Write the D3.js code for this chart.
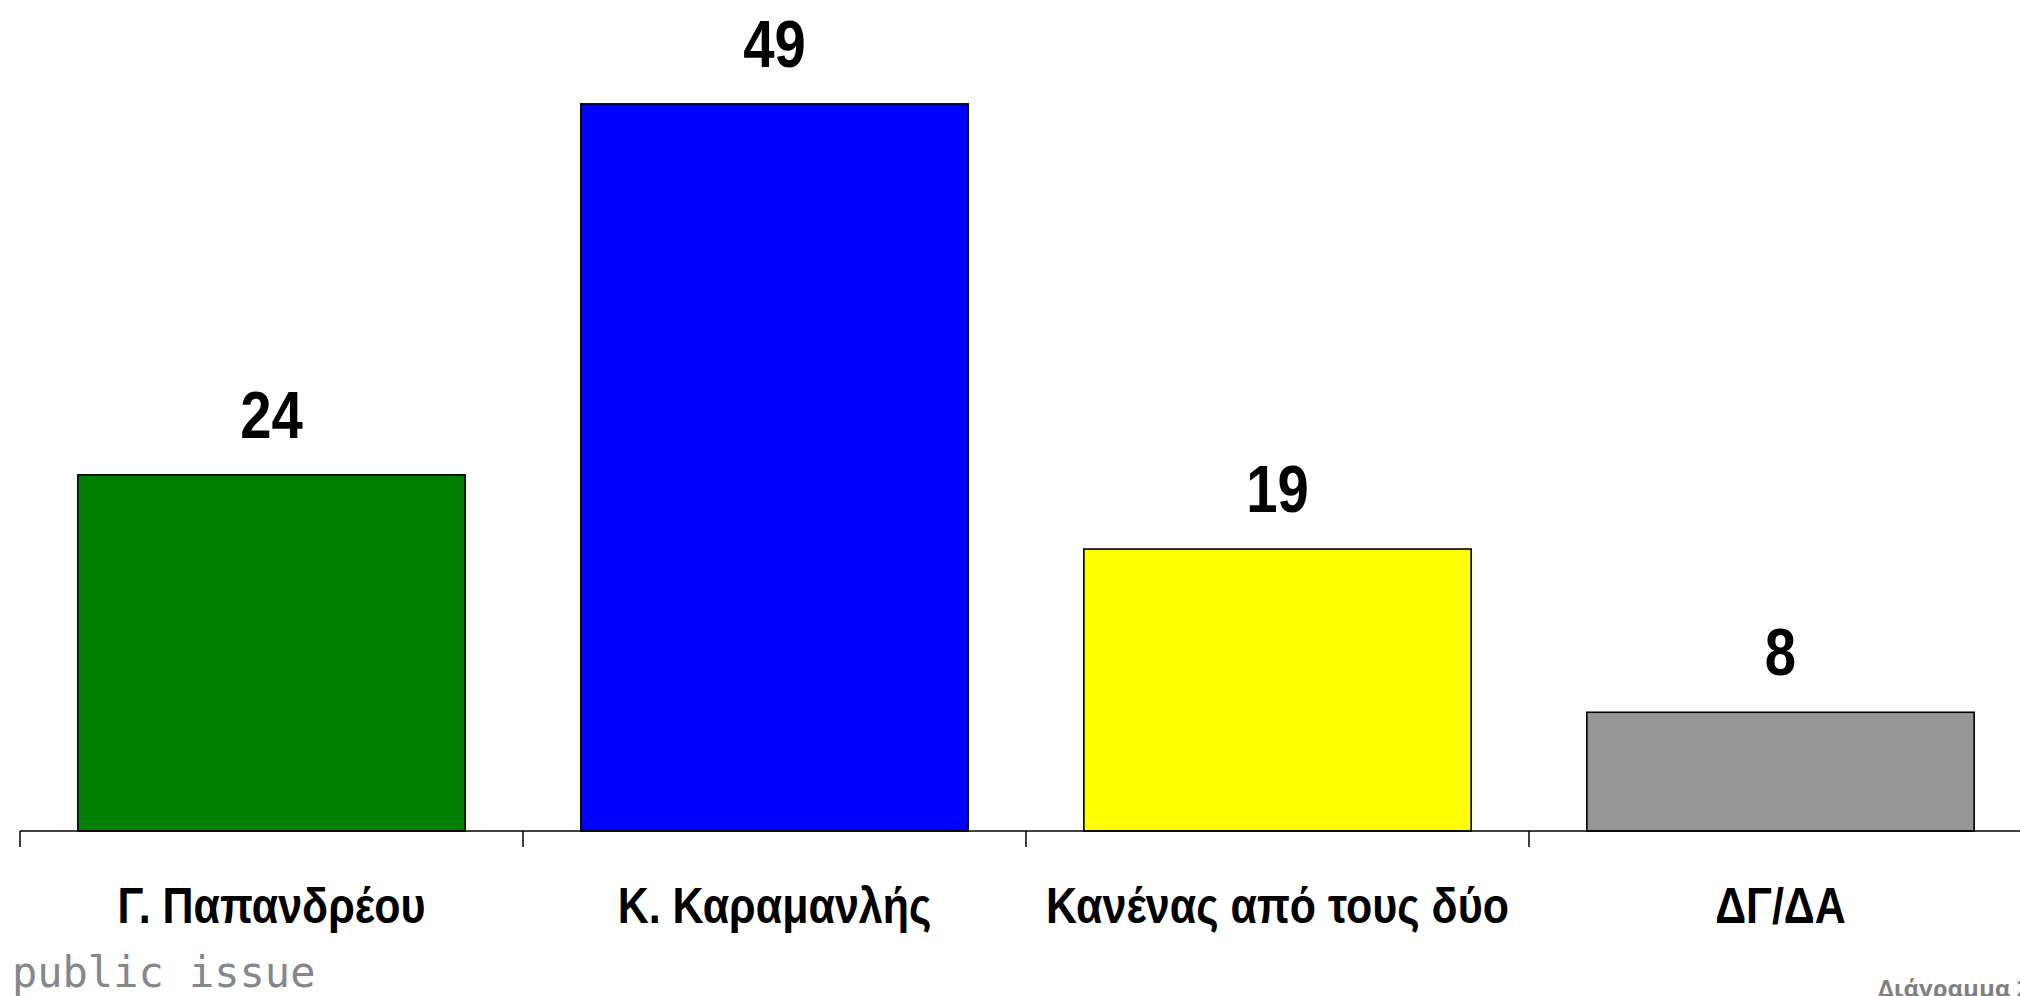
<!DOCTYPE html>
<html>
<head>
<meta charset="utf-8">
<script src="https://cdn.jsdelivr.net/npm/d3@7"></script>
<style>
  body { margin: 0; background: #fff; overflow: hidden; }
  .valueText, .catText { font-family: "Liberation Sans", Arial, sans-serif; font-weight: bold; }
</style>
</head>
<body>
<div id="chart"></div>
<script>
// chart data
let categories = ['Γ. Παπανδρέου', 'Κ. Καραμανλής', 'Κανένας από τους δύο', 'ΔΓ/ΔΑ'];
let values = [24, 49, 19, 8];
let barColors = ['#008000', '#0000ff', '#ffff00', '#969696'];

let svgWidth = 2020;
let svgHeight = 996;

let axisY = 831;
// squeeze factors so Liberation Sans bold looks like a narrow face
let narrowValue = 0.84;
let narrowCat = 0.86;

let svg = d3.select('#chart')
            .append('svg')
            .attr('width', svgWidth)
            .attr('height', svgHeight);

// band scale for the category slots (ticks sit on slot edges)
let xScale = d3.scaleBand()
               .domain(categories)
               .range([20, 2032])
               .padding(0);

let barWidth = xScale.bandwidth() * 0.77;

let yScale = d3.scaleLinear()
               .domain([0, 56])
               .range([axisY, 0]);

let data = categories.map((c, i) => ({cat: c, value: values[i], color: barColors[i]}));

// bars
svg.selectAll('rect.bar')
   .data(data)
   .enter()
   .append('rect')
   .attr('class', 'bar')
   .attr('x', d => xScale(d.cat) + (xScale.bandwidth() - barWidth) / 2)
   .attr('y', d => yScale(d.value))
   .attr('width', barWidth)
   .attr('height', d => axisY - yScale(d.value))
   .attr('fill', d => d.color)
   .attr('stroke', '#000')
   .attr('stroke-width', 1.6);

// axis line + ticks at slot edges
svg.append('line')
   .attr('x1', xScale(categories[0]))
   .attr('x2', svgWidth)
   .attr('y1', axisY)
   .attr('y2', axisY)
   .attr('stroke', '#000')
   .attr('stroke-width', 1.5);

svg.selectAll('line.tick')
   .data(categories)
   .enter()
   .append('line')
   .attr('class', 'tick')
   .attr('x1', d => xScale(d))
   .attr('x2', d => xScale(d))
   .attr('y1', axisY)
   .attr('y2', axisY + 16)
   .attr('stroke', '#000')
   .attr('stroke-width', 1.5);

// value labels
svg.selectAll('text.valueText')
   .data(data)
   .enter()
   .append('text')
   .attr('class', 'valueText')
   .attr('transform', d => `translate(${xScale(d.cat) + xScale.bandwidth() / 2}, ${yScale(d.value) - 37}) scale(${narrowValue}, 1)`)
   .attr('text-anchor', 'middle')
   .attr('font-size', 67)
   .attr('fill', '#000')
   .text(d => d.value);

// category labels
svg.selectAll('text.catText')
   .data(data)
   .enter()
   .append('text')
   .attr('class', 'catText')
   .attr('transform', d => `translate(${xScale(d.cat) + xScale.bandwidth() / 2}, 923) scale(${narrowCat}, 1)`)
   .attr('text-anchor', 'middle')
   .attr('font-size', 50)
   .attr('fill', '#000')
   .text(d => d.cat);

// logo text + chart number
svg.append('text')
   .attr('x', 12)
   .attr('y', 987)
   .attr('font-family', 'DejaVu Sans Mono, monospace')
   .attr('font-size', 42)
   .attr('fill', '#84878c')
   .text('public issue');

svg.append('text')
   .attr('x', 1878)
   .attr('y', 997)
   .attr('font-family', 'Open Sans, sans-serif')
   .attr('font-weight', 'bold')
   .attr('font-size', 24)
   .attr('fill', '#808080')
   .text('Διάγραμμα 2');
</script>
</body>
</html>
